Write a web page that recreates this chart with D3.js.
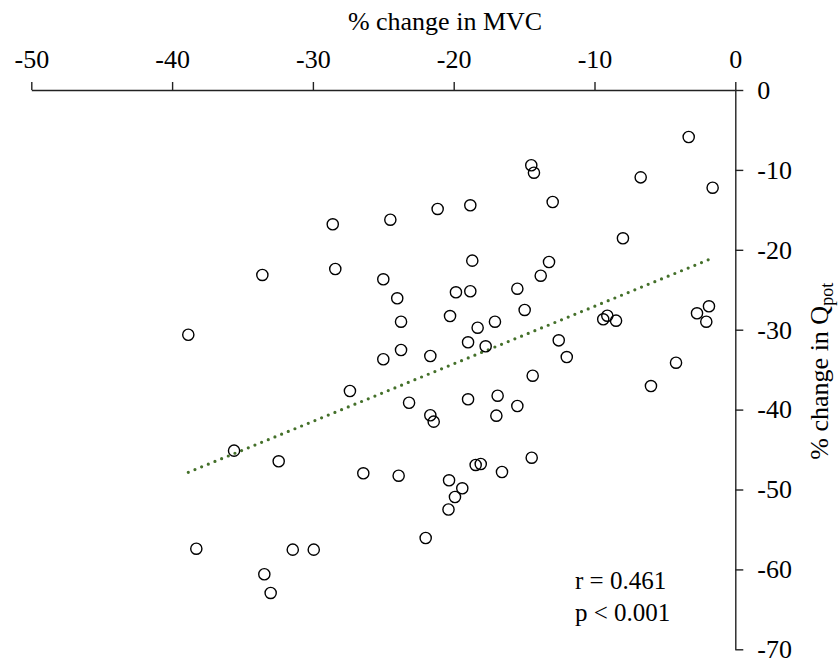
<!DOCTYPE html>
<html>
<head>
<meta charset="utf-8">
<script src="https://cdn.jsdelivr.net/npm/d3@7"></script>
<style>
  html, body { margin: 0; padding: 0; background: #fff; }
  svg { display: block; }
  text { font-family: "Liberation Serif", "Times New Roman", serif; fill: #000; }
</style>
</head>
<body>
<svg id="chart" width="838" height="664"></svg>
<script>
// ---- data ----
const mvcChange = [
  -3.31, -14.49, -14.30, -6.72, -1.61, -21.14, -12.97, -18.82, -28.59, -24.50,
  -7.98, -33.59, -28.41, -18.68, -13.23, -25.00, -13.82, -24.01, -19.84, -18.82,
  -15.48, -38.85, -23.74, -20.26, -14.96, -18.30, -17.07, -9.38, -9.09, -8.47,
  -2.72, -1.87, -2.06, -23.74, -25.00, -21.66, -18.98, -17.73, -12.54, -11.97,
  -4.21, -27.37, -14.39, -5.99, -23.17, -21.66, -21.42, -18.98, -16.88, -15.48,
  -16.97, -35.60, -32.43, -26.42, -23.91, -20.33, -18.44, -18.08, -16.57, -14.46,
  -19.39, -19.91, -20.37, -21.99, -38.28, -31.43, -29.94, -33.45, -33.00
];
const qpotChange = [
  -5.88, -9.42, -10.35, -10.93, -12.23, -14.89, -14.02, -14.43, -16.81, -16.23,
  -18.56, -23.15, -22.40, -21.36, -21.53, -23.69, -23.24, -26.07, -25.32, -25.19,
  -24.87, -30.63, -29.00, -28.29, -27.53, -29.75, -29.00, -28.70, -28.25, -28.87,
  -27.95, -27.07, -29.00, -32.54, -33.70, -33.29, -31.58, -32.08, -31.33, -33.42,
  -34.13, -37.67, -35.76, -37.05, -39.14, -40.71, -41.51, -38.71, -38.26, -39.55,
  -40.76, -45.14, -46.47, -47.97, -48.27, -48.85, -46.93, -46.81, -47.81, -46.02,
  -49.85, -50.94, -52.50, -56.07, -57.41, -57.53, -57.53, -60.61, -62.95
];
// fitted trend line: endpoints in data units
const trendX = [-38.85, -1.61];
const trendY = [-47.85, -21.03];
const xTicks = [-50, -40, -30, -20, -10, 0];
const yTicks = [0, -10, -20, -30, -40, -50, -60, -70];
const xTitle = "% change in MVC";
const yTitleMain = "% change in Q";
const yTitleSub = "pot";
const statLines = ["r = 0.461", "p < 0.001"];

// ---- layout ----
const svg = d3.select("#chart");
const FS = 26;
const x = d3.scaleLinear().domain([-50, 0]).range([31.3, 735.3]);
const y = d3.scaleLinear().domain([0, -70]).range([90, 649.3]);

// top x axis
const gx = svg.append("g")
  .attr("transform", `translate(0,${y(0)})`)
  .call(d3.axisTop(x).tickValues(xTicks).tickSize(8).tickSizeOuter(0).tickPadding(14).tickFormat(d => String(d)));
// right y axis
const gy = svg.append("g")
  .attr("transform", `translate(${x(0)},0)`)
  .call(d3.axisRight(y).tickValues(yTicks).tickSize(8).tickSizeOuter(0).tickPadding(14).tickFormat(d => String(d)));

[gx, gy].forEach(g => {
  g.attr("font-family", null).attr("font-size", null);
  g.selectAll("path.domain").attr("stroke", "#222").attr("stroke-width", 1.4);
  g.selectAll(".tick line").attr("stroke", "#222").attr("stroke-width", 1.4);
  g.selectAll(".tick text").style("font-size", FS + "px").attr("fill", "#000");
});

// x title
svg.append("text")
  .attr("x", 445).attr("y", 30)
  .attr("text-anchor", "middle")
  .style("font-size", FS + "px")
  .text(xTitle);

// y title (rotated, with subscript)
const yt = svg.append("text")
  .attr("transform", `translate(828,${y(-35.2)}) rotate(-90)`)
  .attr("text-anchor", "middle")
  .style("font-size", FS + "px");
yt.append("tspan").text(yTitleMain);
yt.append("tspan").attr("dy", 5).style("font-size", "18px").text(yTitleSub);

// trend line
svg.append("line")
  .attr("x1", x(trendX[0])).attr("y1", y(trendY[0]))
  .attr("x2", x(trendX[1])).attr("y2", y(trendY[1]))
  .attr("stroke", "#44702a")
  .attr("stroke-width", 3.2)
  .attr("stroke-linecap", "round")
  .attr("stroke-dasharray", "0 7.2");

// points
const pts = mvcChange.map((v, i) => ({ mx: v, qy: qpotChange[i] }));
svg.append("g").selectAll("circle")
  .data(pts)
  .join("circle")
  .attr("cx", d => x(d.mx))
  .attr("cy", d => y(d.qy))
  .attr("r", 5.6)
  .attr("fill", "none")
  .attr("stroke", "#000")
  .attr("stroke-width", 1.4);

// stats text
svg.append("g").selectAll("text")
  .data(statLines)
  .join("text")
  .attr("x", 575)
  .attr("y", (d, i) => 589 + i * 32)
  .style("font-size", "25px")
  .text(d => d);
</script>
</body>
</html>
